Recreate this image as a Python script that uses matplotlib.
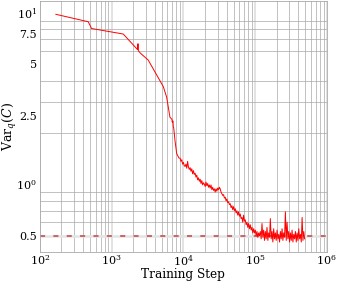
import numpy as np
import matplotlib
matplotlib.use("Agg")
import matplotlib.pyplot as plt
from matplotlib.ticker import LogLocator, FixedLocator, FixedFormatter, NullFormatter

plt.rcParams['font.family'] = ['DejaVu Serif']
plt.rcParams['mathtext.fontset'] = 'dejavuserif'

# early (sparse, smooth) part of the curve
early_steps = [167, 472, 525, 1452, 2300, 2330, 2360, 2535, 3236, 4720, 5250, 5850,
               6500, 6930, 7000, 7160, 7250, 7330, 7640, 8070, 8690]
early_vals = [9.8, 8.87, 8.1, 7.52, 6.1, 6.6, 6.0, 5.8, 5.3, 4.02, 3.71, 3.22,
              2.46, 2.39, 2.30, 2.34, 2.15, 2.14, 1.80, 1.51, 1.42]

# later (dense, noisy) part of the curve
late_start, late_end, late_n = 9.0e3, 4.9e5, 150
late_vals = [
    1.42, 1.36, 1.39, 1.31, 1.34, 1.28,
    1.27, 1.31, 1.24, 1.36, 1.26, 1.22,
    1.25, 1.19, 1.23, 1.15, 1.20, 1.14,
    1.16, 1.10, 1.13, 1.06, 1.09, 1.04,
    1.07, 1.01, 1.05, 0.99, 1.02, 1.00,
    0.97, 1.03, 0.98, 1.01, 0.96, 0.99,
    0.95, 0.99, 0.93, 0.96, 0.92, 0.94,
    0.90, 0.94, 0.91, 0.95, 0.93, 0.96,
    0.94, 0.90, 0.88, 0.86, 0.87, 0.83,
    0.84, 0.80, 0.82, 0.78, 0.79, 0.76,
    0.77, 0.73, 0.75, 0.71, 0.74, 0.70,
    0.72, 0.68, 0.70, 0.66, 0.69, 0.65,
    0.67, 0.63, 0.64, 0.60, 0.66, 0.61,
    0.62, 0.58, 0.60, 0.56, 0.59, 0.55,
    0.58, 0.54, 0.56, 0.52, 0.55, 0.52,
    0.54, 0.50, 0.53, 0.49, 0.52, 0.50,
    0.53, 0.48, 0.59, 0.49, 0.54, 0.47,
    0.53, 0.48, 0.56, 0.47, 0.52, 0.49,
    0.63, 0.48, 0.53, 0.46, 0.55, 0.48,
    0.52, 0.47, 0.54, 0.48, 0.51, 0.46,
    0.53, 0.48, 0.55, 0.47, 0.52, 0.49,
    0.69, 0.47, 0.60, 0.48, 0.53, 0.46,
    0.52, 0.47, 0.54, 0.46, 0.51, 0.48,
    0.53, 0.46, 0.52, 0.47, 0.55, 0.48,
    0.51, 0.46, 0.64, 0.47, 0.53, 0.48,
]
late_steps = np.geomspace(late_start, late_end, late_n)

target_value = 0.5
ytick_vals = [0.5, 1.0, 2.5, 5, 7.5, 10]
ytick_labels = ['0.5', r'$10^0$', '2.5', '5', '7.5', r'$10^1$']

steps = np.concatenate([early_steps, late_steps])
vals = np.concatenate([early_vals, late_vals])

fig = plt.figure(figsize=(3.38, 2.81), dpi=100)
ax = fig.add_axes([0.118, 0.103, 0.849, 0.893])

ax.set_xscale('log')
ax.set_yscale('log')
ax.set_xlim(1e2, 1e6)
ax.set_ylim(0.402, 11.7)

# grid
ax.xaxis.set_minor_locator(LogLocator(base=10, subs=np.arange(2, 10)))
ax.yaxis.set_minor_locator(LogLocator(base=10, subs=np.arange(2, 10)))
ax.grid(True, which='minor', axis='both', color='#a8a8a8', lw=0.5)
ax.grid(True, which='major', axis='x', color='#dedede', lw=1.2)
ax.yaxis.set_major_locator(FixedLocator(ytick_vals))
ax.yaxis.set_major_formatter(FixedFormatter(ytick_labels))
ax.yaxis.set_minor_formatter(NullFormatter())
ax.xaxis.set_minor_formatter(NullFormatter())
ax.set_axisbelow(True)

ax.axhline(target_value, color='#e4e4e4', lw=1.8, zorder=1)
hl = ax.axhline(target_value, color='#c65b5b', lw=1.3, zorder=2)
hl.set_dashes((2.8, 4.6))

ax.plot(steps, vals, color='red', lw=0.7, zorder=3)

ax.tick_params(which='both', length=0, labelsize=8)
ax.tick_params(axis='x', which='both', pad=1)
ax.tick_params(axis='y', which='both', pad=2)
for s in ax.spines.values():
    s.set_color('#a8a8a8')
    s.set_linewidth(0.6)

ax.set_xlabel('Training Step', fontsize=8.7)
ax.set_ylabel(r'$\mathrm{Var}_q(C)$', fontsize=9)
ax.xaxis.set_label_coords(0.5, -0.063)
ax.xaxis.label.set_va('top')
ax.yaxis.set_label_coords(-0.105, 0.5)
ax.yaxis.label.set_va('center')

fig.savefig('out.png', dpi=100)
